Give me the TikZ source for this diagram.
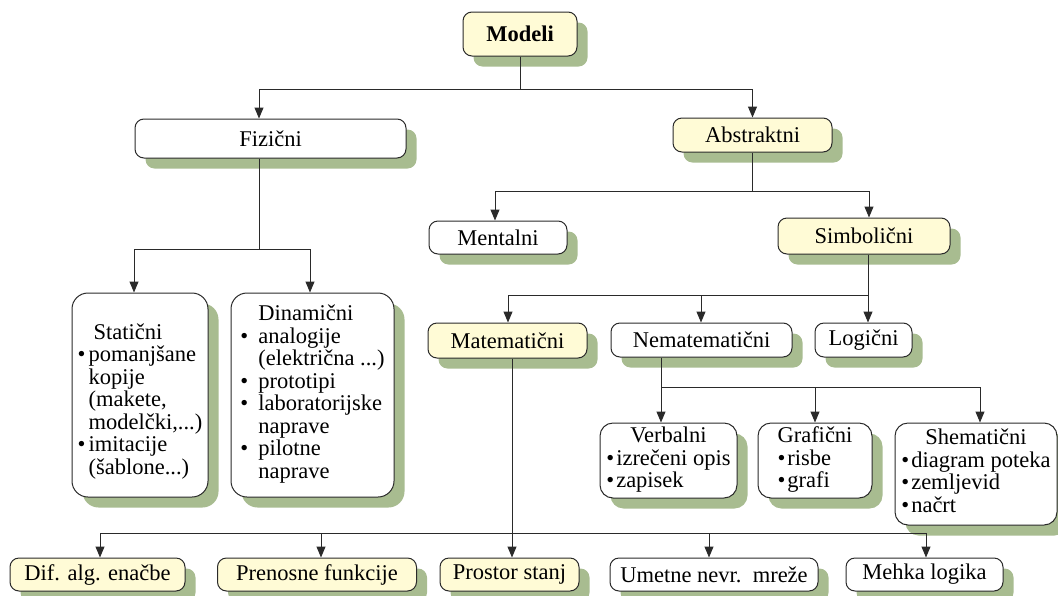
\documentclass[tikz,border=0pt]{standalone}
\usepackage{fontspec}
\setmainfont{Liberation Serif}
\usetikzlibrary{shadows,arrows.meta}
\definecolor{shd}{HTML}{A8BC90}
\definecolor{yel}{HTML}{FFFBD6}
\definecolor{ln}{HTML}{2A2A2A}
\newcommand\bul{•}
\begin{document}
\begin{tikzpicture}[x=1pt,y=-1pt,
  box/.style={draw=ln, line width=1pt, rounded corners=9pt, fill=white, inner sep=0pt, align=center,
    font=\fontsize{22.5}{22.5}\selectfont,
    drop shadow={shadow xshift=10.5pt, shadow yshift=-10.5pt, fill=shd, opacity=1}},
  bigbox/.style={box, rounded corners=16pt},
  ybox/.style={box, fill=yel},
  con/.style={draw=ln, line width=1pt},
  arr/.style={con, -{Triangle[length=11pt,width=9pt]}}
]
\useasboundingbox (0,0) rectangle (1058,595);

% nodes
\node[ybox, minimum width=114pt, minimum height=44pt] (modeli) at (520,34) {\textbf{Modeli}};
\node[box, minimum width=271pt, minimum height=39pt] (fiz) at (270.5,138.5) {Fizični};
\node[ybox, minimum width=159pt, minimum height=34pt] (abs) at (752.5,135) {Abstraktni};
\node[box, minimum width=138pt, minimum height=33pt] (ment) at (498,237.5) {Mentalni};
\node[ybox, minimum width=172pt, minimum height=36pt] (simb) at (864,236) {Simbolični};

\node[bigbox, minimum width=136pt, minimum height=204pt] (stat) at (140,395) {%
\begin{tabular}{@{}l@{\hspace{3pt}}l@{}}
\rule{0pt}{30pt} & \hspace{5pt}Statični\\
\bul & pomanjšane\\
 & kopije\\
 & (makete,\\
 & modelčki,...)\\
\bul & imitacije\\
 & (šablone...)
\end{tabular}};
\node[bigbox, minimum width=163pt, minimum height=204pt] (din) at (312.5,395) {%
\begin{tabular}{@{}l@{\hspace{10pt}}l@{}}
 & Dinamični\\
\bul & analogije\\
 & (električna ...)\\
\bul & prototipi\\
\bul & laboratorijske\\
 & naprave\\
\bul & pilotne\\
 & naprave
\end{tabular}};

\node[ybox, minimum width=159pt, minimum height=35pt] (mat) at (507.5,340.5) {Matematični};
\node[box, minimum width=181pt, minimum height=34pt] (nem) at (701.5,340) {Nematematični};
\node[box, minimum width=97pt, minimum height=34pt] (log) at (863.5,340) {Logični};

\node[bigbox, rounded corners=13pt, minimum width=137pt, minimum height=75pt] (verb) at (668.5,460.5) {%
\begin{tabular}{@{}l@{}}
\multicolumn{1}{@{}c@{}}{Verbalni}\\
\bul\hspace{2pt}izrečeni opis\\
\bul\hspace{2pt}zapisek
\end{tabular}};
\node[bigbox, rounded corners=13pt, minimum width=114pt, minimum height=75pt] (graf) at (815,460.5) {%
\begin{tabular}{@{}l@{}}
\multicolumn{1}{@{}c@{}}{Grafični}\\
\bul\hspace{2pt}risbe\\
\bul\hspace{2pt}grafi
\end{tabular}};
\node[bigbox, rounded corners=13pt, minimum width=162pt, minimum height=102pt] (shem) at (976,474) {%
\begin{tabular}{@{}l@{}}
\multicolumn{1}{@{}c@{}}{Shematični}\\
\bul\hspace{2pt}diagram poteka\\
\bul\hspace{2pt}zemljevid\\
\bul\hspace{2pt}načrt
\end{tabular}};

\node[ybox, minimum width=175pt, minimum height=33pt] (dif) at (97.5,574.5) {Dif. alg. enačbe};
\node[ybox, minimum width=199pt, minimum height=33pt] (pren) at (317,574.5) {Prenosne funkcije};
\node[ybox, minimum width=139pt, minimum height=33pt] (pro) at (509.5,574.5) {Prostor stanj};
\node[box, minimum width=208pt, minimum height=33pt] (umet) at (714,574.5) {Umetne nevr.\ \ mreže};
\node[box, minimum width=157pt, minimum height=33pt] (mehka) at (924.5,574.5) {Mehka logika};

% junctions
\coordinate (j1) at (520,89);
\coordinate (j2) at (752.5,191);
\coordinate (j3) at (259,249);
\coordinate (j4) at (868,295);
\coordinate (j5) at (661,387);
\coordinate (j6) at (512,533);

% connectors
\draw[con] (modeli.south) -- (j1);
\draw[arr] (j1) -| ([xshift=-11.5pt]fiz.north);
\draw[arr] (j1) -| (abs.north);

\draw[con] (abs.south) -- (j2);
\draw[arr] (j2) -| ([xshift=-3pt]ment.north);
\draw[arr] (j2) -| ([xshift=5pt]simb.north);

\draw[con] ([xshift=-11.5pt]fiz.south) -- (j3);
\draw[arr] (j3) -| ([xshift=-6pt]stat.north);
\draw[arr] (j3) -| ([xshift=-2.5pt]din.north);

\draw[con] ([xshift=4pt]simb.south) -- (j4);
\draw[arr] (j4) -| ([xshift=0.5pt]mat.north);
\draw[arr] (j4) -| ([xshift=-0.5pt]nem.north);
\draw[arr] (j4) -| ([xshift=4.5pt]log.north);

\draw[con] ([xshift=-40.5pt]nem.south) -- (j5);
\draw[arr] (j5) -| ([xshift=-7.5pt]verb.north);
\draw[arr] (j5) -| (graf.north);
\draw[arr] (j5) -| ([xshift=4pt]shem.north);

\draw[arr] ([xshift=4.5pt]mat.south) -- ([xshift=2.5pt]pro.north);
\draw[arr] (j6) -| ([xshift=2.5pt]dif.north);
\draw[arr] (j6) -| ([xshift=4pt]pren.north);
\draw[arr] (j6) -| ([xshift=-5pt]umet.north);
\draw[arr] (j6) -| ([xshift=1.5pt]mehka.north);
\end{tikzpicture}
\end{document}
